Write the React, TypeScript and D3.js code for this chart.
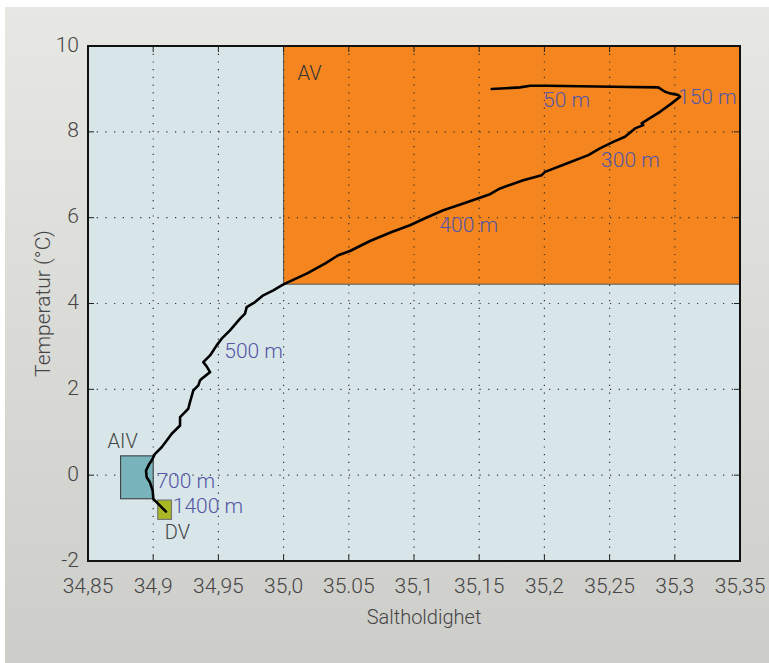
import React from "react";
import * as d3 from "d3";

const salinity = [
  35.1596, 35.1813, 35.189, 35.2018, 35.2528, 35.2873, 35.2925, 35.2963, 35.3027, 35.304,
  35.2976, 35.2887, 35.2785, 35.2746, 35.2758, 35.2695, 35.2618, 35.2528, 35.2426, 35.2337,
  35.2171, 35.2005, 35.1979, 35.1838, 35.166, 35.1583, 35.1378, 35.1225, 35.1097, 35.0969,
  35.0829, 35.0663, 35.0509, 35.0419, 35.0317, 35.0177, 34.9998, 34.9921, 34.9844, 34.9781,
  34.9717, 34.9704, 34.9666, 34.9589, 34.9525, 34.9487, 34.9436, 34.9384, 34.941, 34.9436,
  34.9372, 34.9359, 34.9346, 34.9308, 34.9282, 34.9269, 34.9231, 34.9206, 34.9206, 34.9142,
  34.9104, 34.9065, 34.9014, 34.8988, 34.897, 34.8945, 34.895, 34.8975, 34.8996, 34.9001,
  34.9065, 34.9098,
];
const temperature = [
  8.997, 9.036, 9.074, 9.074, 9.05, 9.036, 8.934, 8.896, 8.857, 8.817,
  8.663, 8.467, 8.273, 8.196, 8.157, 8.08, 7.884, 7.767, 7.613, 7.457,
  7.263, 7.067, 6.99, 6.874, 6.68, 6.547, 6.33, 6.174, 6.003, 5.824,
  5.667, 5.457, 5.224, 5.124, 4.93, 4.697, 4.447, 4.307, 4.19, 4.034,
  3.917, 3.763, 3.647, 3.374, 3.18, 3.024, 2.79, 2.634, 2.534, 2.401,
  2.247, 2.207, 2.091, 1.974, 1.701, 1.547, 1.43, 1.351, 1.157, 0.964,
  0.807, 0.651, 0.497, 0.341, 0.263, 0.107, -0.049, -0.166, -0.359, -0.553,
  -0.749, -0.849,
];

const xTicks = [34.85, 34.9, 34.95, 35.0, 35.05, 35.1, 35.15, 35.2, 35.25, 35.3, 35.35];
const xTickLabels = ["34,85", "34,9", "34,95", "35,0", "35.05", "35,1", "35,15", "35,2", "35,25", "35,3", "35,35"];
const yTicks = [-2, 0, 2, 4, 6, 8, 10];

// water masses
const massNames = ["AV", "AIV", "DV"];
const massS = [[35.0, 35.35], [34.875, 34.9], [34.9035, 34.914]];
const massT = [[4.45, 10], [-0.55, 0.45], [-1.03, -0.58]];

const depthLabels = ["50 m", "150 m", "300 m", "400 m", "500 m", "700 m", "1400 m"];
const depthS = [35.199, 35.3025, 35.2435, 35.1195, 34.9545, 34.9025, 34.915];
const depthT = [8.7, 8.78, 7.32, 5.8, 2.85, -0.17, -0.76];

const W = 769;
const H = 663;
const left = 88, right = 740, top = 46, bottom = 561;

export default function App() {
  const x = d3.scaleLinear().domain([34.85, 35.35]).range([left, right]);
  const y = d3.scaleLinear().domain([-2, 10]).range([bottom, top]);
  const pts = salinity.map((s, i) => [s, temperature[i]] as [number, number]);
  const line = d3.line<[number, number]>().x((d) => x(d[0])).y((d) => y(d[1]));
  const font = "Roboto, 'Open Sans', sans-serif";
  const tickColor = "#454545";
  const labelColor = "#5456a6";
  const [av, aiv, dv] = [0, 1, 2];

  return (
    <svg width={W} height={H} style={{ position: "absolute", left: 0, top: 0 }} fontFamily={font} fontWeight={300}>
      <defs>
        <linearGradient id="bg" x1="0" y1="0" x2="0" y2="1">
          <stop offset="0" stopColor="#e7e7e3" />
          <stop offset="1" stopColor="#cdcdca" />
        </linearGradient>
      </defs>
      <rect x={0} y={0} width={W} height={H} fill="#ffffff" />
      <rect x={5} y={7} width={W - 5} height={H - 7} fill="url(#bg)" />
      <rect x={left} y={top} width={right - left} height={bottom - top} fill="#d8e6e9" />
      <rect
        x={x(massS[av][0])}
        y={y(massT[av][1])}
        width={x(massS[av][1]) - x(massS[av][0])}
        height={y(massT[av][0]) - y(massT[av][1])}
        fill="#f5861f"
        stroke="#555"
        strokeWidth={1}
      />
      {xTicks.slice(1, -1).map((t) => (
        <line key={"gx" + t} x1={x(t)} x2={x(t)} y1={top} y2={bottom} stroke="#333" strokeWidth={1.2} strokeDasharray="1.2,6.5" />
      ))}
      {yTicks.slice(1, -1).map((t) => (
        <line key={"gy" + t} y1={y(t)} y2={y(t)} x1={left} x2={right} stroke="#333" strokeWidth={1.2} strokeDasharray="1.2,7.5" />
      ))}
      {xTicks.slice(1, -1).map((t) => (
        <g key={"tx" + t}>
          <line x1={x(t)} x2={x(t)} y1={bottom} y2={bottom - 6} stroke="#222" strokeWidth={1} />
          <line x1={x(t)} x2={x(t)} y1={top} y2={top + 6} stroke="#222" strokeWidth={1} />
        </g>
      ))}
      {yTicks.slice(1, -1).map((t) => (
        <g key={"ty" + t}>
          <line x1={left} x2={left + 6} y1={y(t)} y2={y(t)} stroke="#222" strokeWidth={1} />
          <line x1={right} x2={right - 6} y1={y(t)} y2={y(t)} stroke="#222" strokeWidth={1} />
        </g>
      ))}
      <rect
        x={x(massS[aiv][0])}
        y={y(massT[aiv][1])}
        width={x(massS[aiv][1]) - x(massS[aiv][0])}
        height={y(massT[aiv][0]) - y(massT[aiv][1])}
        fill="#79b3bb"
        stroke="#333"
        strokeWidth={1}
      />
      <rect
        x={x(massS[dv][0])}
        y={y(massT[dv][1])}
        width={x(massS[dv][1]) - x(massS[dv][0])}
        height={y(massT[dv][0]) - y(massT[dv][1])}
        fill="#a9b823"
        stroke="#777"
        strokeWidth={1.2}
      />
      <rect x={left} y={top} width={right - left} height={bottom - top} fill="none" stroke="#111" strokeWidth={2} />
      <path d={line(pts) || ""} fill="none" stroke="#000" strokeWidth={2.6} strokeLinejoin="round" strokeLinecap="round" />
      <text x={x(massS[av][0]) + 14} y={y(massT[av][1]) + 34} fontSize={20} fill="#333">{massNames[av]}</text>
      <text x={x(massS[aiv][0]) - 13} y={y(massT[aiv][1]) - 8} fontSize={20} fill="#444">{massNames[aiv]}</text>
      <text x={x(massS[dv][0]) + 7} y={y(massT[dv][0]) + 20} fontSize={20} fill="#444">{massNames[dv]}</text>
      {depthLabels.map((l, i) => (
        <text key={l} x={x(depthS[i])} y={y(depthT[i])} fontSize={21} fill={labelColor} dominantBaseline="middle" textAnchor="start">
          {l}
        </text>
      ))}
      {xTicks.map((t, i) => (
        <text key={"lx" + t} x={x(t)} y={593} fontSize={21} fill={tickColor} textAnchor="middle">
          {xTickLabels[i]}
        </text>
      ))}
      {yTicks.map((t) => (
        <text key={"ly" + t} x={79} y={y(t)} fontSize={21} fill={tickColor} textAnchor="end" dominantBaseline="middle">
          {String(t)}
        </text>
      ))}
      <text x={424} y={624} fontSize={20} fill={tickColor} textAnchor="middle">Saltholdighet</text>
      <text transform={`translate(50,${(top + bottom) / 2}) rotate(-90)`} fontSize={21} fill={tickColor} textAnchor="middle">
        Temperatur (°C)
      </text>
    </svg>
  );
}
